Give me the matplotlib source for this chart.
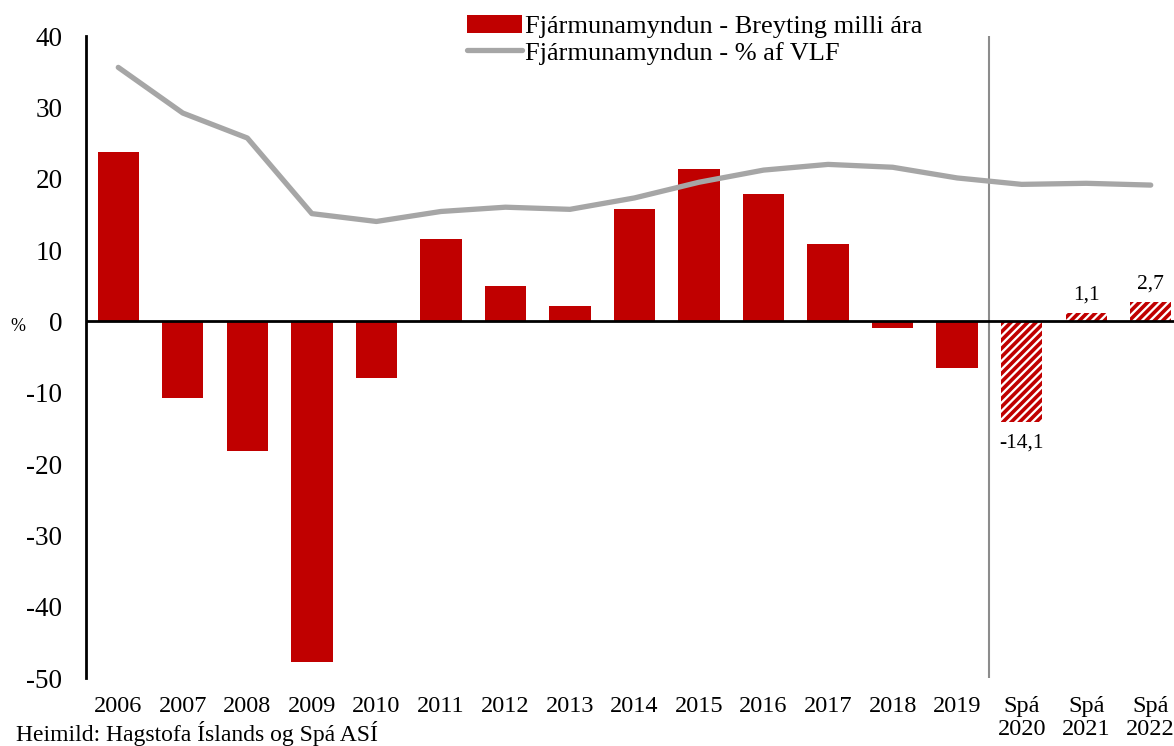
import numpy as np
import matplotlib
matplotlib.use('AGG')
import matplotlib.pyplot as plt

# data
years = ['2006', '2007', '2008', '2009', '2010', '2011', '2012', '2013', '2014',
         '2015', '2016', '2017', '2018', '2019', 'Spá\n2020', 'Spá\n2021', 'Spá\n2022']
change = [23.7, -10.8, -18.2, -47.8, -8.0, 11.5, 5.0, 2.2, 15.8,
          21.3, 17.8, 10.8, -1.0, -6.5, -14.1, 1.1, 2.7]
share_gdp = [35.6, 29.2, 25.7, 15.1, 14.0, 15.4, 16.0, 15.7, 17.3,
             19.5, 21.2, 22.0, 21.6, 20.1, 19.2, 19.35, 19.1]
n_actual = 14  # first forecast index

plt.rcParams['font.family'] = ['Liberation Serif', 'DejaVu Serif']
plt.rcParams['axes.unicode_minus'] = False
plt.rcParams['hatch.linewidth'] = 2.6

RED = '#C00000'
GREY = '#A6A6A6'

fig = plt.figure(figsize=(11.74, 7.46), dpi=100)
ax = fig.add_axes([86 / 1174, 1 - 678 / 746, (1183 - 86) / 1174, (678 - 36) / 746])

x = np.arange(len(years))
bars = ax.bar(x[:n_actual], change[:n_actual], width=0.64, color=RED, zorder=2)
ax.bar(x[n_actual:], change[n_actual:], width=0.64, color='white', edgecolor=RED,
       hatch='////', linewidth=0, zorder=2)
line, = ax.plot(x, share_gdp, color=GREY, lw=3.8, solid_capstyle='round', zorder=3)

# forecast labels
for xi, v in zip(x[n_actual:], change[n_actual:]):
    txt = ('%.1f' % v).replace('.', ',')
    if v < 0:
        ax.text(xi, v - 1.6, txt, ha='center', va='top', fontsize=15.5)
    else:
        ax.text(xi, v + 1.2, txt, ha='center', va='bottom', fontsize=15.5)

ax.axhline(0, color='black', lw=2, zorder=4)
ax.axvline(n_actual - 0.5, color='#8C8C8C', lw=1.5, zorder=1)

ax.set_xlim(-0.5, 16.5)
ax.set_ylim(-50, 40)
ax.set_yticks(range(-50, 41, 10))
ax.tick_params(axis='y', length=0, labelsize=19.5, pad=17)
ax.set_xticks(x)
ax.set_xticklabels(years, va='top', linespacing=1.1)
ax.tick_params(axis='x', length=0, labelsize=17.5, pad=13)
for s in ['top', 'right', 'bottom']:
    ax.spines[s].set_visible(False)
ax.spines['left'].set_linewidth(2)
ax.spines['left'].set_zorder(5)

fig.text(18 / 1174, 1 - 326 / 746, '%', fontsize=13, ha='center', va='center')
fig.text(16 / 1174, 1 - 734 / 746, 'Heimild: Hagstofa Íslands og Spá ASÍ',
         fontsize=17, ha='left', va='center')

ax.legend([bars, line], ['Fjármunamyndun - Breyting milli ára', 'Fjármunamyndun - % af VLF'],
          loc='upper left', bbox_to_anchor=(452 / 1174, 1.0), bbox_transform=fig.transFigure,
          frameon=False, fontsize=19, handlelength=2.1, handletextpad=0.1,
          labelspacing=0.12, borderaxespad=0.15)

fig.savefig('out.png', dpi=100)
